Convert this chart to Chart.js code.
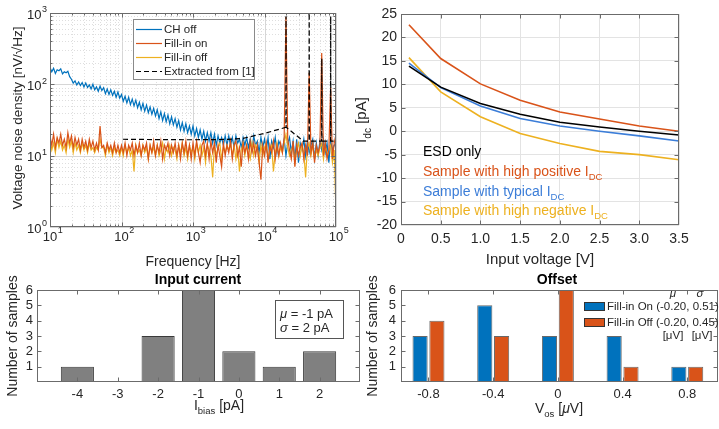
<!DOCTYPE html>
<html>
<head>
<meta charset="utf-8">
<title>Noise, DC current and offset</title>
<script src="https://cdn.jsdelivr.net/npm/chart.js@4.4.1/dist/chart.umd.min.js"></script>
<style>
  html, body { margin: 0; padding: 0; background: #fff; }
  body { position: relative; width: 719px; height: 429px; overflow: hidden; }
  canvas { position: absolute; }
  #chart-noise { left: 0; top: 0; }
  #chart-idc { left: 345px; top: 0; }
  #chart-bias { left: 0; top: 270px; }
  #chart-offset { left: 360px; top: 270px; }
</style>
</head>
<body>
<canvas id="chart-noise" width="360" height="272"></canvas>
<canvas id="chart-idc" width="374" height="272"></canvas>
<canvas id="chart-bias" width="362" height="159"></canvas>
<canvas id="chart-offset" width="359" height="159"></canvas>
<script>
// ---- noise spectra (top left) ----
const freqMantissa = [
  1.000, 1.059, 1.122, 1.189, 1.259, 1.334, 1.413, 1.496, 1.585, 1.679,
  1.778, 1.884, 1.995, 2.113, 2.239, 2.371, 2.512, 2.661, 2.818, 2.985,
  3.162, 3.350, 3.548, 3.758, 3.981, 4.217, 4.467, 4.732, 5.012, 5.309,
  5.623, 5.957, 6.310, 6.683, 7.079, 7.499, 7.943, 8.414, 8.913, 9.441,
];
const freqDecades = [10, 100, 1000, 10000];
const freqHz = freqDecades.flatMap((d) => freqMantissa.map((m) => d * m)).concat([100000]);

const noiseChOff = [
  172, 150, 168, 142, 160, 155, 165, 140, 150, 145,
  152, 128, 118, 104, 112, 98, 108, 96, 106, 92,
  104, 90, 98, 86, 100, 84, 92, 80, 94, 82,
  90, 74, 86, 72, 84, 70, 80, 66, 78, 64,
  72, 58, 68, 55, 66, 52, 62, 50, 60, 47,
  56, 44, 54, 42, 51, 40, 48, 38, 46, 36,
  44, 33, 41, 31, 39, 30, 37, 28, 35, 27,
  33, 25, 31, 23, 29, 22, 28, 21, 26, 20,
  26, 19, 24, 18, 23, 17, 22, 16, 21, 16,
  21, 15, 20, 14, 19, 15, 18, 14, 19, 14,
  19, 14, 18, 13, 19, 15, 17, 13, 18, 14,
  18, 13, 17, 12, 19, 14, 16, 11, 18, 13,
  17, 12, 18, 9, 16, 13, 18, 11, 16, 14,
  12, 17, 10, 15, 18, 11, 16, 9, 17, 8,
  15, 12, 17, 10, 16, 11, 14, 17, 9, 15,
  10, 16, 12, 17, 11, 15, 8, 16, 12, 14,
  15,
];
const noiseFillOn = [
  19, 14, 20, 13, 18, 15, 20, 14, 17, 13,
  21, 15, 19, 13, 18, 14, 17, 12, 17, 13,
  16, 12, 17, 13, 16, 12, 15, 12, 26, 13,
  14, 11, 15, 12, 14, 11, 15, 11, 14, 11,
  14, 11, 15, 10, 14, 12, 15, 10, 14, 11,
  15, 10, 14, 12, 15, 9, 14, 11, 16, 10,
  14, 11, 16, 9, 14, 12, 15, 10, 14, 11,
  15, 10, 14, 9, 15, 11, 16, 10, 14, 9,
  15, 10, 16, 11, 8, 14, 16, 10, 15, 9,
  16, 11, 15, 8, 14, 10, 7, 15, 10, 14,
  11, 16, 9, 14, 16, 10, 13, 7, 15, 11,
  14, 9, 16, 11, 15, 10, 14, 8, 4.6, 14,
  10, 15, 8, 14, 11, 16, 9, 14, 10, 15,
  11, 18, 880, 17, 12, 9, 16, 7, 14, 10,
  13, 15, 9, 14, 10, 145, 11, 15, 8, 14,
  11, 14, 275, 10, 15, 9, 12, 90, 9, 15,
  20,
];
const noiseFillOff = [
  16, 12, 15, 11, 17, 13, 16, 12, 14, 11,
  17, 13, 16, 11, 15, 12, 14, 11, 15, 12,
  14, 11, 15, 12, 13, 11, 13, 12, 17, 13,
  13, 10, 14, 11, 13, 10, 13, 11, 12, 10,
  13, 10, 14, 11, 13, 10, 12, 6, 14, 11,
  12, 10, 14, 11, 13, 9, 14, 11, 13, 10,
  14, 10, 12, 15, 9, 13, 11, 14, 10, 13,
  12, 9, 14, 11, 15, 10, 13, 9, 14, 11,
  13, 9, 15, 11, 14, 10, 13, 8, 14, 12,
  10, 5, 14, 10, 13, 15, 9, 13, 11, 14,
  12, 15, 10, 14, 9, 13, 6, 12, 15, 10,
  14, 11, 9, 15, 10, 14, 12, 8, 14, 10,
  13, 15, 9, 12, 14, 6, 11, 15, 10, 13,
  11, 15, 20, 13, 10, 12, 14, 8, 12, 15,
  10, 14, 11, 5, 13, 15, 10, 14, 9, 12,
  10, 13, 15, 9, 14, 10, 12, 14, 8, 12,
  1.5,
];
const extractedHz = [105, 300, 1000, 3000, 5000, 10000, 19900, 20000, 20100, 35000, 42000, 42200, 42400, 60000, 63000, 63300, 63600, 82000, 84000, 84300, 84600, 100000];
const extractedNoise = [17, 16.8, 16.7, 16.9, 17.5, 20.5, 25, 900, 25, 16, 16, 1000, 16, 16, 16, 230, 16, 16, 16, 900, 16, 16];

const logSteps = [1, 2, 3, 4, 5, 6, 7, 8, 9];
const freqTicks = [10, 100, 1000, 10000].flatMap((d) => logSteps.map((s) => s * d)).concat([100000]);
const noiseTicks = [1, 10, 100].flatMap((d) => logSteps.map((s) => s * d)).concat([1000]);
const freqExponents = [1, 2, 3, 4, 5];
const noiseExponents = [0, 1, 2, 3];

// ---- DC current vs input voltage (top right) ----
const vin = [0.1, 0.5, 1, 1.5, 2, 2.5, 3, 3.5];
const idcEsdOnly = [13.9, 9.4, 5.9, 3.6, 1.9, 0.9, 0, -0.8];
const idcHighPos = [22.7, 15.5, 10.1, 6.6, 4.1, 2.6, 1.1, 0];
const idcTypical = [14.5, 9.3, 5.4, 2.7, 1.1, 0, -1, -2.1];
const idcHighNeg = [15.7, 8.4, 3.1, -0.5, -2.6, -4.3, -5, -6.1];

// ---- histograms (bottom) ----
const biasBins = [-4, -3, -2, -1, 0, 1, 2];
const biasCounts = [1, 0, 3, 6, 2, 1, 2];
const vosBins = [-0.8, -0.4, 0, 0.4, 0.8];
const vosFillOn = [3, 5, 3, 3, 1];
const vosFillOff = [4, 3, 6, 1, 1];
const countTicks = [0, 1, 2, 3, 4, 5, 6];

const FONT = '"Liberation Sans", Arial, Helvetica, sans-serif';
const INK = "#262626";
const RED = "#D95319";
const BLUE = "#0072BD";
const YELLOW = "#EDB120";

Chart.defaults.font.family = FONT;
Chart.defaults.color = INK;
Chart.defaults.animation = false;
Chart.defaults.plugins.legend.display = false;
Chart.defaults.plugins.tooltip.enabled = false;

const toPoints = (xs, ys) => xs.map((x, i) => ({ x: x, y: ys[i] }));
const isPow10 = (v) => Math.abs(Math.log10(v) - Math.round(Math.log10(v))) < 1e-9;

// text with optional subscript / italic pieces
function richText(ctx, parts, x, y, size, color, align, angle, bold) {
  ctx.save();
  ctx.translate(x, y);
  if (angle) ctx.rotate(angle);
  ctx.fillStyle = color;
  ctx.textAlign = "left";
  ctx.textBaseline = "middle";
  const fontFor = (p) =>
    (p.italic ? "italic " : "") + (bold ? "bold " : "") + (p.sub ? size * 0.68 : size) + "px " + FONT;
  let w = 0;
  parts.forEach((p) => {
    ctx.font = fontFor(p);
    w += ctx.measureText(p.t).width;
  });
  let cx = align === "center" ? -w / 2 : align === "right" ? -w : 0;
  parts.forEach((p) => {
    ctx.font = fontFor(p);
    ctx.fillText(p.t, cx, p.sub ? size * 0.38 : 0);
    cx += ctx.measureText(p.t).width;
  });
  ctx.restore();
}

// box round the plot area with small inward ticks on all sides
const framePlugin = {
  id: "frame",
  afterDatasetsDraw(chart, args, opts) {
    const { ctx, chartArea: a } = chart;
    const xs = chart.scales.x;
    const ys = chart.scales.y;
    ctx.save();
    ctx.strokeStyle = "#6b6b6b";
    ctx.lineWidth = 1;
    ctx.setLineDash([]);
    const L = Math.round(a.left) + 0.5, R = Math.round(a.right) - 0.5;
    const T = Math.round(a.top) + 0.5, B = Math.round(a.bottom) - 0.5;
    ctx.strokeRect(L, T, R - L, B - T);
    ctx.beginPath();
    xs.ticks.forEach((t) => {
      const p = Math.round(xs.getPixelForValue(t.value)) + 0.5;
      if (p <= L || p >= R) return;
      const len = opts.log && !isPow10(t.value) ? 2 : 4;
      ctx.moveTo(p, B); ctx.lineTo(p, B - len);
      ctx.moveTo(p, T); ctx.lineTo(p, T + len);
    });
    ys.ticks.forEach((t) => {
      const p = Math.round(ys.getPixelForValue(t.value)) + 0.5;
      if (p <= T || p >= B) return;
      const len = opts.log && !isPow10(t.value) ? 2 : 4;
      ctx.moveTo(L, p); ctx.lineTo(L + len, p);
      ctx.moveTo(R, p); ctx.lineTo(R - len, p);
    });
    ctx.stroke();
    ctx.restore();
  },
};

// solid decade lines, dotted minor lines
const logGridPlugin = {
  id: "logGrid",
  beforeDatasetsDraw(chart) {
    const { ctx, chartArea: a } = chart;
    const xs = chart.scales.x;
    const ys = chart.scales.y;
    ctx.save();
    ctx.lineWidth = 1;
    const line = (x1, y1, x2, y2, major) => {
      ctx.strokeStyle = major ? "#d6d6d6" : "#dedede";
      ctx.setLineDash(major ? [] : [1, 2]);
      ctx.beginPath();
      ctx.moveTo(x1, y1);
      ctx.lineTo(x2, y2);
      ctx.stroke();
    };
    xs.ticks.forEach((t) => {
      const p = Math.round(xs.getPixelForValue(t.value)) + 0.5;
      line(p, a.top, p, a.bottom, isPow10(t.value));
    });
    ys.ticks.forEach((t) => {
      const p = Math.round(ys.getPixelForValue(t.value)) + 0.5;
      line(a.left, p, a.right, p, isPow10(t.value));
    });
    ctx.restore();
  },
};

const noiseTexts = {
  id: "noiseTexts",
  afterDraw(chart) {
    const { ctx, chartArea: a } = chart;
    const xs = chart.scales.x;
    const ys = chart.scales.y;
    ctx.save();
    ctx.fillStyle = INK;
    ctx.textBaseline = "middle";
    // decade labels 10^n
    freqExponents.forEach((e) => {
      const p = xs.getPixelForValue(Math.pow(10, e));
      ctx.font = "13px " + FONT;
      ctx.textAlign = "center";
      ctx.fillText("10", p, a.bottom + 10);
      const w = ctx.measureText("10").width;
      ctx.font = "9px " + FONT;
      ctx.textAlign = "left";
      ctx.fillText(String(e), p + w / 2 + 0.5, a.bottom + 4);
    });
    noiseExponents.forEach((e) => {
      const p = ys.getPixelForValue(Math.pow(10, e));
      ctx.font = "9px " + FONT;
      ctx.textAlign = "right";
      ctx.fillText(String(e), a.left - 3, p - 3);
      const we = ctx.measureText(String(e)).width;
      ctx.font = "13px " + FONT;
      ctx.fillText("10", a.left - 3.5 - we, p + 2);
    });
    ctx.restore();

    richText(ctx, [{ t: "Frequency [Hz]" }], 193, 262, 14, INK, "center");
    richText(ctx, [{ t: "Voltage noise density [nV/\u221aHz]" }], 18, 118, 13.5, INK, "center", -Math.PI / 2);

    // legend box
    ctx.save();
    ctx.fillStyle = "#fff";
    ctx.strokeStyle = "#8a8a8a";
    ctx.lineWidth = 1;
    ctx.fillRect(133.5, 19.5, 121, 60);
    ctx.strokeRect(133.5, 19.5, 121, 60);
    chart.data.datasets.forEach((ds, i) => {
      const y = 29.5 + i * 14;
      ctx.strokeStyle = ds.borderColor;
      ctx.lineWidth = 1.2;
      ctx.setLineDash(ds.borderDash || []);
      ctx.beginPath();
      ctx.moveTo(136, y);
      ctx.lineTo(162, y);
      ctx.stroke();
      ctx.setLineDash([]);
      richText(ctx, [{ t: ds.label }], 164, y, 11.5, INK, "left");
    });
    ctx.restore();
  },
};

new Chart(document.getElementById("chart-noise"), {
  type: "line",
  data: {
    datasets: [
      { label: "CH off", data: toPoints(freqHz, noiseChOff), borderColor: BLUE, order: 3 },
      { label: "Fill-in on", data: toPoints(freqHz, noiseFillOn), borderColor: RED, order: 1 },
      { label: "Fill-in off", data: toPoints(freqHz, noiseFillOff), borderColor: YELLOW, order: 2 },
      {
        label: "Extracted from [1]",
        data: toPoints(extractedHz, extractedNoise),
        borderColor: "#000000",
        borderDash: [5, 3],
        borderWidth: 1.2,
        order: 0,
      },
    ],
  },
  options: {
    responsive: false,
    layout: { padding: { top: 13, right: 24, bottom: 0, left: 0 } },
    elements: { line: { borderWidth: 1.2, tension: 0 }, point: { radius: 0 } },
    scales: {
      x: {
        type: "logarithmic",
        min: 10,
        max: 100000,
        afterBuildTicks: (s) => { s.ticks = freqTicks.map((v) => ({ value: v })); },
        afterFit: (s) => { s.height = 45; },
        ticks: { display: false },
        grid: { display: false, drawTicks: false },
        border: { display: false },
      },
      y: {
        type: "logarithmic",
        min: 1,
        max: 1000,
        afterBuildTicks: (s) => { s.ticks = noiseTicks.map((v) => ({ value: v })); },
        afterFit: (s) => { s.width = 50; },
        ticks: { display: false },
        grid: { display: false, drawTicks: false },
        border: { display: false },
      },
    },
    plugins: { frame: { log: true } },
  },
  plugins: [logGridPlugin, framePlugin, noiseTexts],
});

const idcTexts = {
  id: "idcTexts",
  afterDraw(chart) {
    const ctx = chart.ctx;
    richText(ctx, [{ t: "I" }, { t: "dc", sub: true }, { t: " [pA]" }], 17, 120, 15, INK, "center", -Math.PI / 2);
    richText(ctx, [{ t: "Input voltage [V]" }], 195, 260, 15, INK, "center");
    richText(ctx, [{ t: "ESD only" }], 78, 152, 14, "#000000", "left");
    richText(ctx, [{ t: "Sample with high positive I" }, { t: "DC", sub: true }], 78, 172, 14, RED, "left");
    richText(ctx, [{ t: "Sample with typical I" }, { t: "DC", sub: true }], 78, 192, 14, "#3B7DD8", "left");
    richText(ctx, [{ t: "Sample with high negative I" }, { t: "DC", sub: true }], 78, 211, 14, YELLOW, "left");
  },
};

new Chart(document.getElementById("chart-idc"), {
  type: "line",
  data: {
    datasets: [
      { label: "Sample with high negative IDC", data: toPoints(vin, idcHighNeg), borderColor: YELLOW, order: 3 },
      { label: "Sample with typical IDC", data: toPoints(vin, idcTypical), borderColor: "#3B7DD8", order: 2 },
      { label: "ESD only", data: toPoints(vin, idcEsdOnly), borderColor: "#000000", order: 1 },
      { label: "Sample with high positive IDC", data: toPoints(vin, idcHighPos), borderColor: RED, order: 0 },
    ],
  },
  options: {
    responsive: false,
    layout: { padding: { top: 14, right: 40, bottom: 0, left: 0 } },
    elements: { line: { borderWidth: 1.6, tension: 0 }, point: { radius: 0 } },
    scales: {
      x: {
        type: "linear",
        min: 0,
        max: 3.5,
        afterFit: (s) => { s.height = 47; },
        ticks: { stepSize: 0.5, padding: 6, font: { size: 14 }, color: INK, maxRotation: 0 },
        grid: { color: "#e3e3e3", drawTicks: false },
        border: { display: false },
      },
      y: {
        type: "linear",
        min: -20,
        max: 25,
        afterFit: (s) => { s.width = 56; },
        ticks: { stepSize: 5, padding: 4, font: { size: 14 }, color: INK },
        grid: { color: "#e3e3e3", drawTicks: false },
        border: { display: false },
      },
    },
  },
  plugins: [framePlugin, idcTexts],
});

const biasTexts = {
  id: "biasTexts",
  afterDraw(chart) {
    const ctx = chart.ctx;
    richText(ctx, [{ t: "Input current" }], 198, 10, 14, "#000000", "center", 0, true);
    richText(ctx, [{ t: "Number of samples" }], 13, 66, 14, INK, "center", -Math.PI / 2);
    richText(ctx, [{ t: "I" }, { t: "bias", sub: true }, { t: " [pA]" }], 219, 136, 14, INK, "center");
    ctx.save();
    ctx.fillStyle = "#fff";
    ctx.strokeStyle = "#555";
    ctx.lineWidth = 1;
    ctx.fillRect(275.5, 30.5, 68, 38);
    ctx.strokeRect(275.5, 30.5, 68, 38);
    ctx.restore();
    richText(ctx, [{ t: "\u03bc", italic: true }, { t: " = -1 pA" }], 280, 44, 13, INK, "left");
    richText(ctx, [{ t: "\u03c3", italic: true }, { t: " = 2 pA" }], 280, 58, 13, INK, "left");
  },
};

const countAxis = (width, pad) => ({
  min: 0,
  max: 6,
  afterBuildTicks: (s) => { s.ticks = countTicks.map((v) => ({ value: v })); },
  afterFit: (s) => { s.width = width; },
  ticks: { padding: pad, font: { size: 13 }, color: INK, autoSkip: false, callback: (v) => (v === 0 ? "" : v) },
  grid: { display: false, drawTicks: false },
  border: { display: false },
});

new Chart(document.getElementById("chart-bias"), {
  type: "bar",
  data: {
    datasets: [
      {
        label: "Input current",
        data: toPoints(biasBins, biasCounts),
        backgroundColor: "#808080",
        borderColor: "#3a3a3a",
        borderWidth: 1,
        borderSkipped: false,
        categoryPercentage: 0.82,
        barPercentage: 1,
      },
    ],
  },
  options: {
    responsive: false,
    layout: { padding: { top: 20, right: 2, bottom: 0, left: 0 } },
    scales: {
      x: {
        type: "linear",
        min: -5,
        max: 3,
        offset: false,
        afterBuildTicks: (s) => { s.ticks = biasBins.map((v) => ({ value: v })); },
        afterFit: (s) => { s.height = 47; },
        ticks: { padding: 5, font: { size: 13 }, color: INK, maxRotation: 0, autoSkip: false },
        grid: { display: false, drawTicks: false, offset: false },
        border: { display: false },
      },
      y: countAxis(37, 4),
    },
  },
  plugins: [framePlugin, biasTexts],
});

const offsetTexts = {
  id: "offsetTexts",
  afterDraw(chart) {
    const ctx = chart.ctx;
    richText(ctx, [{ t: "Offset" }], 197, 10, 14, "#000000", "center", 0, true);
    richText(ctx, [{ t: "Number of samples" }], 13, 66, 14, INK, "center", -Math.PI / 2);
    richText(ctx, [{ t: "V" }, { t: "os", sub: true }, { t: " [" }, { t: "\u03bc", italic: true }, { t: "V]" }], 199, 139, 14, INK, "center");
    ctx.save();
    ctx.lineWidth = 1;
    ctx.strokeStyle = "#333";
    chart.data.datasets.forEach((ds, i) => {
      const y = 32 + i * 16;
      ctx.fillStyle = ds.backgroundColor;
      ctx.fillRect(224, y, 21, 9);
      ctx.strokeRect(224.5, y + 0.5, 20, 8);
      richText(ctx, [{ t: ds.label }], 247, y + 4.5, 11.5, INK, "left");
    });
    ctx.restore();
    richText(ctx, [{ t: "\u03bc", italic: true }], 313, 24, 11.5, INK, "center");
    richText(ctx, [{ t: "\u03c3", italic: true }], 340, 24, 11.5, INK, "center");
    richText(ctx, [{ t: "[\u03bcV]" }], 313, 66, 11.5, INK, "center");
    richText(ctx, [{ t: "[\u03bcV]" }], 342, 66, 11.5, INK, "center");
  },
};

new Chart(document.getElementById("chart-offset"), {
  type: "bar",
  data: {
    datasets: [
      {
        label: "Fill-in On (-0.20, 0.51)",
        data: toPoints(vosBins, vosFillOn),
        backgroundColor: BLUE,
      },
      {
        label: "Fill-in Off (-0.20, 0.45)",
        data: toPoints(vosBins, vosFillOff),
        backgroundColor: RED,
      },
    ],
  },
  options: {
    responsive: false,
    layout: { padding: { top: 20, right: 1, bottom: 0, left: 0 } },
    datasets: {
      bar: {
        borderColor: "rgba(40,40,40,0.7)",
        borderWidth: 1,
        borderSkipped: false,
        categoryPercentage: 0.52,
        barPercentage: 0.9,
      },
    },
    scales: {
      x: {
        type: "linear",
        min: -0.97,
        max: 0.99,
        offset: false,
        afterBuildTicks: (s) => { s.ticks = vosBins.map((v) => ({ value: v })); },
        afterFit: (s) => { s.height = 47; },
        ticks: { padding: 5, font: { size: 13 }, color: INK, maxRotation: 0, autoSkip: false },
        grid: { display: false, drawTicks: false, offset: false },
        border: { display: false },
      },
      y: countAxis(41, 5),
    },
  },
  plugins: [framePlugin, offsetTexts],
});
</script>
</body>
</html>
